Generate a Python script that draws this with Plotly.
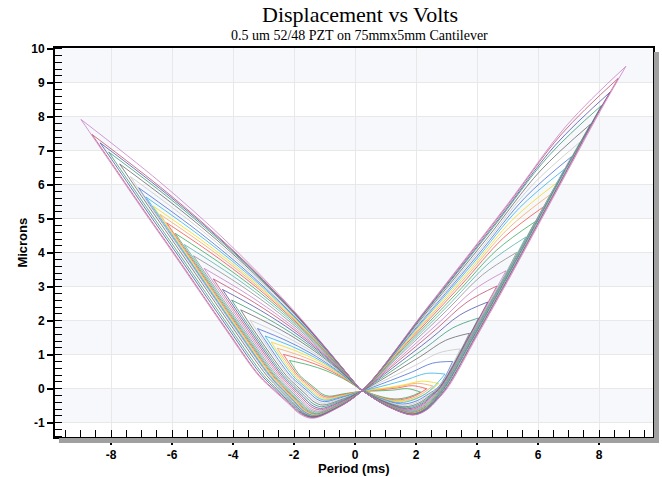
import plotly.graph_objects as go

# ---------------- data ----------------
# amplitude (tip voltage) of each hysteresis loop, smallest -> largest
loop_amp_v = [2.15, 2.35, 2.55, 2.75, 2.95, 3.2, 3.45, 3.75, 4.05, 4.35, 4.65, 4.95, 5.3,
              5.6, 5.9, 6.18, 6.4, 6.62, 6.86, 7.1, 7.37, 7.72, 8.08, 8.36, 8.63, 8.88]
right_tip_um = [-0.1, 0.0, 0.08, 0.15, 0.43, 0.8, 1.17, 1.63, 2.08, 2.55, 3.02, 3.47, 4.01,
                4.46, 4.91, 5.35, 5.71, 6.06, 6.45, 6.83, 7.25, 7.78, 8.33, 8.72, 9.13, 9.48]
left_tip_um = [0.83, 1.01, 1.19, 1.37, 1.55, 1.77, 2.02, 2.32, 2.61, 2.92, 3.23, 3.54, 3.91,
               4.24, 4.57, 4.88, 5.13, 5.37, 5.64, 5.91, 6.24, 6.61, 6.96, 7.23, 7.48, 7.92]
left_tip_v = [-2.15, -2.35, -2.55, -2.75, -2.95, -3.2, -3.45, -3.75, -4.05, -4.35, -4.65, -4.95, -5.3,
              -5.6, -5.9, -6.18, -6.4, -6.62, -6.86, -7.1, -7.37, -7.72, -8.08, -8.36, -8.63, -8.99]
# inward shift of each loop's outer branch relative to the outer envelope (V)
right_offset_v = [0.4, 0.38, 0.36, 0.35, 0.34, 0.32, 0.3, 0.28, 0.26, 0.25, 0.24, 0.22, 0.2,
                  0.18, 0.16, 0.15, 0.15, 0.15, 0.15, 0.14, 0.13, 0.11, 0.09, 0.05, 0.03, 0.0]
left_offset_v = [1.33, 1.27, 1.21, 1.15, 1.09, 1.01, 0.95, 0.88, 0.81, 0.75, 0.69, 0.63, 0.57,
                 0.52, 0.48, 0.44, 0.41, 0.38, 0.35, 0.32, 0.3, 0.24, 0.15, 0.08, 0.0, -0.03]
right_min_v = [1.3, 1.35, 1.4, 1.45, 1.5, 1.55, 1.6, 1.64, 1.68, 1.72, 1.75, 1.78, 1.8,
               1.82, 1.84, 1.85, 1.86, 1.86, 1.87, 1.87, 1.88, 1.88, 1.89, 1.89, 1.9, 1.9]
right_min_um = [-0.3, -0.33, -0.36, -0.38, -0.41, -0.45, -0.49, -0.53, -0.56, -0.59, -0.62, -0.64, -0.66,
                -0.68, -0.7, -0.71, -0.72, -0.73, -0.74, -0.74, -0.75, -0.75, -0.76, -0.76, -0.77, -0.77]
left_min_v = [-0.85, -0.88, -0.91, -0.94, -0.97, -1.0, -1.03, -1.06, -1.1, -1.13, -1.16, -1.19, -1.22,
              -1.24, -1.26, -1.28, -1.3, -1.31, -1.32, -1.33, -1.34, -1.35, -1.36, -1.37, -1.38, -1.4]
left_min_um = [-0.22, -0.25, -0.28, -0.31, -0.34, -0.38, -0.43, -0.48, -0.53, -0.58, -0.62, -0.66, -0.69,
               -0.72, -0.74, -0.76, -0.77, -0.78, -0.79, -0.8, -0.81, -0.82, -0.83, -0.84, -0.85, -0.87]

# outer envelope (straight rising part above the knee) of the largest loop
right_env_v = [3.07, 4.0, 5.0, 6.0, 7.0, 8.0, 8.88]
right_env_um = [0.07, 1.55, 3.15, 4.8, 6.45, 8.1, 9.48]
left_env_v = [-3.13, -4.22, -5.87, -7.0, -8.06, -8.99]
left_env_um = [0.38, 1.75, 3.9, 5.35, 6.74, 7.94]

# points where the loops cross near 0 V
cross_up = (0.15, 0.0)
cross_down = (0.2, -0.08)

loop_colors = ['#3daa5c', '#ef5050', '#f5a860', '#efdc20', '#30b4e6', '#4b6fd6', '#c8c8c8',
               '#6a6a6a', '#3a9a72', '#5056a8', '#c0506e', '#c880c8', '#8f8f8f', '#5ab0a8']

x_ticks = [-8, -6, -4, -2, 0, 2, 4, 6, 8]
y_ticks = [-1, 0, 1, 2, 3, 4, 5, 6, 7, 8, 9, 10]

# ---------------- figure ----------------
fig = go.Figure()

amp_max = loop_amp_v[-1]
for k, A in enumerate(loop_amp_v):
    SR, SL, AL = right_tip_um[k], left_tip_um[k], left_tip_v[k]
    VmR, SmR = right_min_v[k], right_min_um[k]
    VmL, SmL = left_min_v[k], left_min_um[k]
    oR, oL = right_offset_v[k], left_offset_v[k]
    scale = A / amp_max
    xs, ys = [], []

    def add(p):
        xs.append(p[0]); ys.append(p[1])

    # ---- rising branch on the right: crossing -> minimum -> knee -> envelope -> tip
    add(cross_up)
    add((0.55 * VmR, 0.66 * SmR))
    add((VmR, SmR))
    kV, kS = right_env_v[0] - oR, right_env_um[0]
    if kV < A - 0.3 and kS < SR - 0.15:
        dV, dS = kV - VmR, kS - SmR
        add((VmR + 0.38 * dV, SmR + 0.17 * dS))
        add((VmR + 0.7 * dV, SmR + 0.55 * dS))
        add((kV, kS))
        for v, s in zip(right_env_v[1:], right_env_um[1:]):
            if v - oR < A - 0.3 and s < SR - 0.2:
                add((v - oR, s))
    else:
        add((VmR + 0.55 * (A - VmR), SmR + 0.3 * (SR - SmR)))
    add((A, SR))
    xs.append(None); ys.append(None)

    # ---- returning branch of the right wing: tip -> crossing
    add((A, SR))
    for f, b in ((0.22, 0.4), (0.45, 0.22), (0.75, 0.08)):
        v = A + f * (cross_down[0] - A)
        s = SR + f * (cross_down[1] - SR) + b * scale
        add((v, s))
    add(cross_down)

    # ---- falling to the left minimum, then outer left branch up to the tip
    add((0.5 * VmL, 0.72 * SmL))
    add((VmL, SmL))
    kV, kS = left_env_v[0] + oL, left_env_um[0]
    dV, dS = kV - VmL, kS - SmL
    add((VmL + 0.23 * dV, SmL + 0.1 * dS))
    add((VmL + 0.46 * dV, SmL + 0.36 * dS))
    add((VmL + 0.72 * dV, SmL + 0.66 * dS))
    add((kV, kS))
    for v, s in zip(left_env_v[1:], left_env_um[1:]):
        if v + oL > AL + 0.3 and s < SL - 0.2:
            add((v + oL, s))
    add((AL, SL))
    xs.append(None); ys.append(None)

    # ---- returning branch of the left wing: tip -> crossing
    add((AL, SL))
    for f, b in ((0.28, 0.4), (0.52, 0.55), (0.76, 0.43)):
        v = AL + f * (cross_up[0] - AL)
        s = SL + f * (cross_up[1] - SL) + b * scale
        add((v, s))
    add(cross_up)

    fig.add_trace(go.Scatter(
        x=xs, y=ys, mode='lines',
        line=dict(color=loop_colors[k % len(loop_colors)], width=0.8, shape='spline', smoothing=1.0),
        connectgaps=False, showlegend=False, hoverinfo='skip'))

W, H = 600.0, 389.0
shapes = []
for y0 in y_ticks[::2]:
    shapes.append(dict(type='rect', xref='paper', x0=0, x1=1, yref='y', y0=y0, y1=y0 + 1,
                       fillcolor='#f6f8fb', line=dict(width=0), layer='below'))
shapes.append(dict(type='rect', xref='paper', yref='paper', x0=1 + 1 / W, x1=1 + 6 / W,
                   y0=-6 / H, y1=1 - 4 / H, fillcolor='#a0a0a0', line=dict(width=0), layer='above'))
shapes.append(dict(type='rect', xref='paper', yref='paper', x0=4 / W, x1=1 + 6 / W,
                   y0=-6 / H, y1=-1 / H, fillcolor='#a0a0a0', line=dict(width=0), layer='above'))

tickfont = dict(family='Liberation Sans, Arial, sans-serif', size=12, color='black', weight='bold')
fig.update_xaxes(range=[-9.84, 9.77], tickvals=x_ticks, ticktext=[str(t) for t in x_ticks],
                 ticks='outside', ticklen=6, tickwidth=1.5, tickcolor='black',
                 showline=True, linewidth=2, linecolor='black', mirror=True,
                 showgrid=True, gridcolor='#e8e8e8', gridwidth=1, zeroline=False,
                 minor=dict(dtick=0.5, tick0=0, ticks='inside', ticklen=7, tickwidth=1,
                            tickcolor='black', showgrid=False),
                 tickfont=tickfont)
fig.update_yaxes(range=[-1.42, 10.02], tickvals=y_ticks, ticktext=[str(t) for t in y_ticks],
                 ticks='outside', ticklen=6, tickwidth=1.5, tickcolor='black',
                 showline=True, linewidth=2, linecolor='black', mirror=True,
                 showgrid=True, gridcolor='#e8e8e8', gridwidth=1, zeroline=False,
                 minor=dict(dtick=0.2, tick0=0, ticks='inside', ticklen=7, tickwidth=1,
                            tickcolor='black', showgrid=False),
                 tickfont=tickfont)

fig.update_layout(
    width=662, height=477,
    margin=dict(l=55, r=7, t=48, b=40),
    paper_bgcolor='white', plot_bgcolor='white',
    shapes=shapes,
    annotations=[
        dict(text='Displacement vs Volts', xref='paper', yref='paper', x=0.51, y=1 + 33 / H,
             xanchor='center', yanchor='middle', showarrow=False,
             font=dict(family='Liberation Serif, Times New Roman, serif', size=22, color='black')),
        dict(text='0.5 um 52/48 PZT on 75mmx5mm Cantilever', xref='paper', yref='paper',
             x=0.51, y=1 + 13 / H, xanchor='center', yanchor='middle', showarrow=False,
             font=dict(family='Liberation Serif, Times New Roman, serif', size=14, color='black')),
        dict(text='Microns', xref='paper', yref='paper', x=-33 / W, y=0.5, textangle=-90,
             xanchor='center', yanchor='middle', showarrow=False,
             font=dict(family='Liberation Sans, Arial, sans-serif', size=13, color='black', weight='bold')),
        dict(text='Period (ms)', xref='paper', yref='paper', x=0.5, y=-31 / H,
             xanchor='center', yanchor='middle', showarrow=False,
             font=dict(family='Liberation Sans, Arial, sans-serif', size=13, color='black', weight='bold')),
    ],
)

# remove the browser's default 8 px page margin so the 662x477 figure fills the window
fig.write_html('out.html', config={'displayModeBar': False},
               post_script="document.body.style.margin='0px';document.body.style.overflow='hidden';")
